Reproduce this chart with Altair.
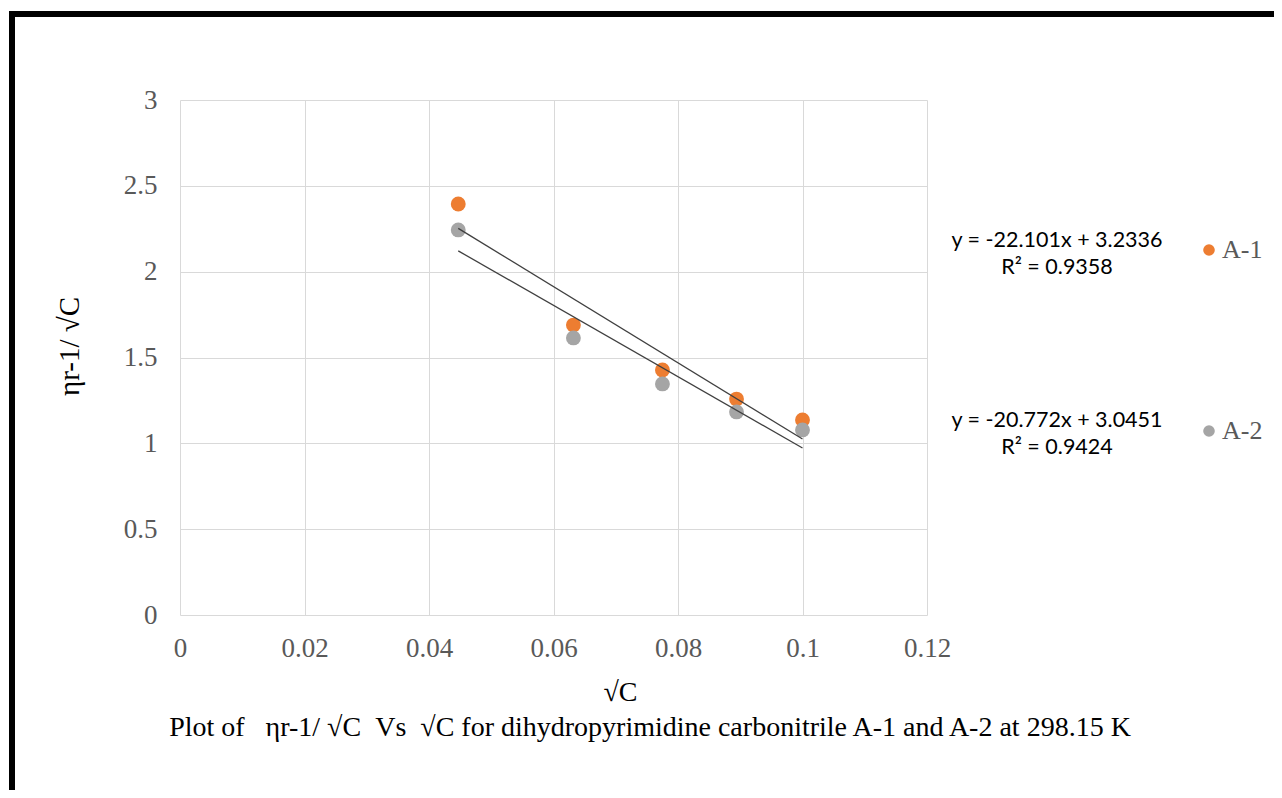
import altair as alt
import pandas as pd

# ---- data ----
sqrt_c = [0.0447, 0.0632, 0.0775, 0.0894, 0.1000]
a1_vals = [2.394, 1.689, 1.427, 1.258, 1.136]
a2_vals = [2.243, 1.614, 1.346, 1.183, 1.078]
series_names = ["A-1", "A-2"]
series_colors = ["#ED7D31", "#A5A5A5"]
eq_a1 = ["y = -22.101x + 3.2336", "R\u00b2 = 0.9358"]
eq_a2 = ["y = -20.772x + 3.0451", "R\u00b2 = 0.9424"]
x_ticks = [0, 0.02, 0.04, 0.06, 0.08, 0.1, 0.12]
y_ticks = [0, 0.5, 1, 1.5, 2, 2.5, 3]
x_title = "\u221aC"
y_title = "\u03b7r-1/ \u221aC"
caption = ("Plot of \u00a0 \u03b7r-1/ \u221aC \u00a0Vs \u00a0\u221aC for dihydropyrimidine "
           "carbonitrile A-1 and A-2 at 298.15\u00a0K")

rows = []
for name, vals in zip(series_names, [a1_vals, a2_vals]):
    for xv, yv in zip(sqrt_c, vals):
        rows.append({"x": xv, "y": yv, "series": name})
df = pd.DataFrame(rows)

SERIF = "Liberation Serif"
SANS = "Lato"
W, H = 747, 515

xs = alt.X("x:Q", scale=alt.Scale(domain=[0, 0.12], nice=False, zero=True),
           axis=alt.Axis(values=x_ticks, format="~g", title=x_title,
                         labelPadding=20, labelFlush=False,
                         titleX=440, titleY=77, titleBaseline="middle",
                         titleAlign="center", titleFontSize=28))
ys = alt.Y("y:Q", scale=alt.Scale(domain=[0, 3], nice=False),
           axis=alt.Axis(values=y_ticks, format="~g", title=y_title,
                         labelAlign="right", labelPadding=23, labelFlush=False,
                         titleX=-111, titleY=246, titleAngle=270,
                         titleBaseline="middle", titleAlign="center",
                         titleFontSize=29))

points = alt.Chart(df).mark_circle(size=220, opacity=1).encode(
    x=xs, y=ys,
    color=alt.Color("series:N",
                    scale=alt.Scale(domain=series_names, range=series_colors),
                    legend=alt.Legend(title=None, orient="none", legendX=1016, legendY=137,
                                      symbolType="circle", symbolSize=135,
                                      symbolStrokeWidth=0,
                                      labelFont=SERIF, labelFontSize=26,
                                      labelColor="#595959", rowPadding=155,
                                      labelOffset=0)),
)

trend = alt.Chart(df).transform_regression(
    "x", "y", groupby=["series"]
).mark_line(color="#404040", strokeWidth=1.3).encode(
    x="x:Q", y="y:Q", detail="series:N"
)

def text_block(lines, cx, cy0, dy):
    d = pd.DataFrame({"t": lines, "i": list(range(len(lines)))})
    return alt.Chart(d).mark_text(
        font=SANS, fontSize=21.5, color="#000000", align="center", baseline="middle"
    ).encode(
        x=alt.value(cx),
        y=alt.value(cy0),
        yOffset=alt.YOffset("i:Q", scale=alt.Scale(domain=[0, 1], range=[0, dy])),
        text="t:N",
    )

eq1 = text_block(eq_a1, 877, 141, 27)
eq2 = text_block(eq_a2, 877, 321, 27)

cap = alt.Chart(pd.DataFrame({"t": [caption]})).mark_text(
    font=SERIF, fontSize=28, color="#000000", align="center", baseline="middle"
).encode(x=alt.value(470), y=alt.value(628), text="t:N")

one = pd.DataFrame({"a": [0]})
frame_top = alt.Chart(one).mark_rule(color="#000000", strokeWidth=6).encode(
    x=alt.value(-171), x2=alt.value(1102), y=alt.value(-86))
frame_left = alt.Chart(one).mark_rule(color="#000000", strokeWidth=6).encode(
    x=alt.value(-168), y=alt.value(-89), y2=alt.value(700))

chart = alt.layer(points, trend, eq1, eq2, cap, frame_top, frame_left).properties(
    width=W, height=H,
    autosize=alt.AutoSizeParams(type="none"),
    padding={"left": 172, "top": 92, "right": 347, "bottom": 175},
    background="#ffffff",
).configure_view(strokeWidth=0).configure_axis(
    grid=True, gridColor="#d9d9d9", gridWidth=1, domain=False, ticks=False,
    labelFont=SERIF, labelFontSize=27, labelColor="#595959",
    titleFont=SERIF, titleColor="#000000", titleFontWeight="normal",
)

chart.save("out.html", embed_options={"renderer": "svg", "actions": False})
